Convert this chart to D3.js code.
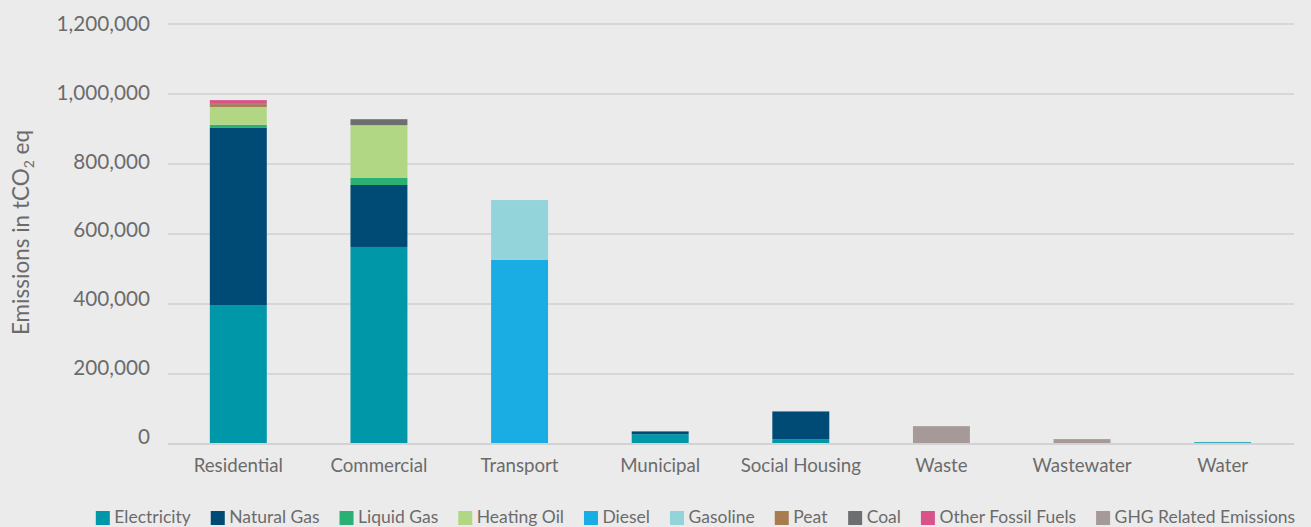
<!DOCTYPE html>
<html>
<head>
<meta charset="utf-8">
<script src="https://cdn.jsdelivr.net/npm/d3@7/dist/d3.min.js"></script>
<style>
  html, body { margin: 0; padding: 0; background: #ebebeb; }
  svg { display: block; font-family: Lato, "Noto Sans", sans-serif; }
</style>
</head>
<body>
<svg id="chart" width="1311" height="527"></svg>
<script>
// Emissions by sector, stacked by fuel source (tCO2 eq)
const categories = ["Residential", "Commercial", "Transport", "Municipal", "Social Housing", "Waste", "Wastewater", "Water"];

const fuels = ["Electricity", "Natural Gas", "Liquid Gas", "Heating Oil", "Diesel", "Gasoline", "Peat", "Coal", "Other Fossil Fuels", "GHG Related Emissions"];
const fuelColors = ["#0097a9", "#004b76", "#2bb074", "#b1d784", "#1aade3", "#93d4da", "#a97c50", "#6d6e71", "#d9538b", "#a59a97"];

const electricity = [397000, 563000, 0, 28000, 13000, 0, 0, 5000];
const naturalGas  = [506000, 177000, 0, 8000, 80000, 0, 0, 0];
const liquidGas   = [9000, 20000, 0, 0, 0, 0, 0, 0];
const heatingOil  = [51000, 151000, 0, 0, 0, 0, 0, 0];
const diesel      = [0, 0, 526000, 0, 0, 0, 0, 0];
const gasoline    = [0, 0, 171000, 0, 0, 0, 0, 0];
const peat        = [8000, 0, 0, 0, 0, 0, 0, 0];
const coal        = [2500, 17000, 0, 0, 0, 0, 0, 0];
const otherFossil = [9000, 0, 0, 0, 0, 0, 0, 0];
const ghgRelated  = [0, 0, 0, 0, 0, 51000, 14000, 0];

const yTicks = [0, 200000, 400000, 600000, 800000, 1000000, 1200000];

const seriesValues = [electricity, naturalGas, liquidGas, heatingOil, diesel, gasoline, peat, coal, otherFossil, ghgRelated];

// one row per sector, one column per fuel
const rows = categories.map((c, i) => {
  const r = { category: c };
  fuels.forEach((f, k) => { r[f] = seriesValues[k][i]; });
  return r;
});

const svg = d3.select("#chart");
const textColor = "#6b6b6b";

const x = d3.scaleBand().domain(categories).range([168, 1293]).paddingInner(0.595).paddingOuter(0.2975);
const y = d3.scaleLinear().domain([0, 1200000]).range([444, 24]);
const yLabel = d3.scaleLinear().domain([0, 1200000]).range([436.5, 24.2]);
const color = d3.scaleOrdinal().domain(fuels).range(fuelColors);

// gridlines
svg.append("g")
  .selectAll("line")
  .data(yTicks.filter(t => t > 0))
  .join("line")
  .attr("x1", 168).attr("x2", 1294)
  .attr("y1", d => y(d)).attr("y2", d => y(d))
  .attr("stroke", "#d7d7d7").attr("stroke-width", 2);

// tick labels
const yAxis = svg.append("g")
  .attr("transform", "translate(150,0)")
  .call(d3.axisLeft(yLabel).tickValues(yTicks).tickSize(0).tickPadding(0).tickFormat(d3.format(",")));
yAxis.select(".domain").remove();
yAxis.selectAll("text")
  .attr("fill", textColor).attr("font-size", "20.7px").attr("font-family", "Lato, sans-serif");

// stacked bars
const stacked = d3.stack().keys(fuels)(rows);
svg.append("g")
  .selectAll("g")
  .data(stacked)
  .join("g")
  .attr("fill", d => color(d.key))
  .selectAll("rect")
  .data(d => d.filter(s => s[1] - s[0] > 0))
  .join("rect")
  .attr("x", d => x(d.data.category))
  .attr("width", x.bandwidth())
  .attr("y", d => y(d[1]))
  .attr("height", d => y(d[0]) - y(d[1]));

// baseline
svg.append("line")
  .attr("x1", 168).attr("x2", 1294)
  .attr("y1", y(0)).attr("y2", y(0))
  .attr("stroke", "#d2d2d2").attr("stroke-width", 2);

// category labels
const xAxis = svg.append("g")
  .attr("transform", "translate(0,458)")
  .call(d3.axisBottom(x).tickSize(0).tickPadding(0));
xAxis.select(".domain").remove();
xAxis.selectAll("text")
  .attr("fill", textColor).attr("font-size", "18.7px").attr("font-family", "Lato, sans-serif")
  .attr("dy", "0.76em");

// y-axis title with subscript
const title = svg.append("text")
  .attr("transform", "translate(29,232.5) rotate(-90)")
  .attr("text-anchor", "middle")
  .attr("fill", textColor)
  .attr("font-size", "22.5px");
title.append("tspan").text("Emissions in tCO");
title.append("tspan").text("2").attr("font-size", "14px").attr("dy", "5");
title.append("tspan").text(" eq").attr("dy", "-5");

// legend
const legend = svg.append("g").attr("font-size", "17.5px").attr("fill", textColor);
const items = legend.selectAll("g").data(fuels).join("g");
items.append("rect").attr("width", 14).attr("height", 14).attr("y", 511).attr("fill", d => color(d));
items.append("text").attr("x", 18.5).attr("y", 523).text(d => d);
const gap = 20;
const widths = items.nodes().map(n => n.getBBox().width);
const total = d3.sum(widths) + gap * (widths.length - 1);
let cursor = 695.5 - total / 2;
items.attr("transform", (d, i) => {
  const t = `translate(${cursor},0)`;
  cursor += widths[i] + gap;
  return t;
});
</script>
</body>
</html>
